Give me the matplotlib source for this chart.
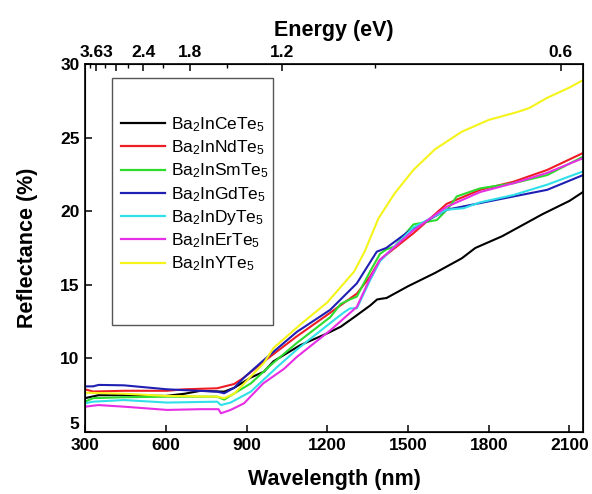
import matplotlib
matplotlib.use("Agg")
import matplotlib.pyplot as plt
from matplotlib.patches import Rectangle

plt.rcParams['font.family'] = ['Liberation Sans', 'DejaVu Sans']
plt.rcParams['mathtext.fontset'] = 'custom'
plt.rcParams['mathtext.rm'] = 'Liberation Sans'
plt.rcParams['mathtext.it'] = 'Liberation Sans:italic'
plt.rcParams['mathtext.bf'] = 'Liberation Sans:bold'

# ---------------- data ----------------
ce_x = [300, 350, 450, 600, 670, 730, 817, 854, 916, 965, 1000, 1100, 1200, 1250, 1300, 1360, 1385, 1400, 1420, 1500, 1600, 1700, 1750, 1850, 2000, 2100, 2150]
ce_y = [7.3, 7.5, 7.5, 7.45, 7.6, 7.8, 7.74, 8.0, 8.7, 9.1, 9.8, 10.9, 11.7, 12.15, 12.8, 13.6, 14.0, 14.05, 14.1, 14.9, 15.8, 16.8, 17.5, 18.3, 19.8, 20.7, 21.3]

nd_x = [300, 330, 445, 605, 668, 791, 854, 891, 965, 1087, 1211, 1310, 1359, 1396, 1520, 1644, 1768, 1892, 2017, 2150]
nd_y = [7.9, 7.75, 7.8, 7.8, 7.9, 7.97, 8.26, 8.7, 9.8, 11.5, 13.1, 14.4, 15.55, 16.7, 18.5, 20.5, 21.45, 22.0, 22.8, 23.95]

sm_x = [300, 330, 445, 605, 791, 817, 865, 916, 990, 1087, 1211, 1250, 1284, 1310, 1359, 1396, 1419, 1450, 1520, 1607, 1650, 1681, 1768, 1892, 2017, 2150]
sm_y = [7.06, 7.3, 7.36, 7.4, 7.4, 7.2, 7.74, 8.3, 9.55, 11.05, 12.8, 13.7, 14.0, 14.2, 15.9, 17.1, 17.4, 17.6, 19.1, 19.4, 20.2, 21.0, 21.55, 21.9, 22.45, 23.7]

gd_x = [300, 330, 351, 445, 605, 791, 817, 854, 891, 965, 1087, 1211, 1310, 1384, 1419, 1508, 1644, 1768, 1892, 2017, 2150]
gd_y = [8.1, 8.1, 8.2, 8.17, 7.9, 7.74, 7.63, 8.0, 8.7, 9.9, 11.8, 13.3, 15.1, 17.25, 17.5, 18.7, 20.1, 20.55, 21.0, 21.45, 22.45]

dy_x = [300, 330, 445, 605, 791, 805, 841, 916, 1013, 1087, 1211, 1260, 1285, 1310, 1359, 1396, 1520, 1644, 1706, 1768, 1892, 2017, 2150]
dy_y = [6.95, 7.06, 7.17, 7.0, 7.06, 6.83, 7.0, 7.74, 9.4, 10.6, 12.4, 13.1, 13.4, 13.4, 15.3, 16.6, 18.9, 20.1, 20.2, 20.6, 21.1, 21.8, 22.7]

er_x = [300, 350, 445, 605, 730, 796, 805, 841, 891, 962, 1040, 1087, 1211, 1310, 1359, 1396, 1520, 1644, 1768, 1892, 2017, 2150]
er_y = [6.72, 6.83, 6.72, 6.5, 6.55, 6.55, 6.27, 6.5, 6.95, 8.3, 9.3, 10.1, 11.9, 13.5, 15.45, 16.7, 18.7, 20.3, 21.3, 21.9, 22.6, 23.6]

y_x = [300, 445, 605, 791, 817, 854, 902, 965, 1000, 1100, 1200, 1300, 1340, 1390, 1450, 1520, 1600, 1700, 1800, 1900, 1950, 2017, 2100, 2150]
y_y = [7.67, 7.6, 7.45, 7.4, 7.3, 7.6, 8.5, 9.7, 10.7, 12.3, 13.8, 15.9, 17.3, 19.5, 21.2, 22.8, 24.2, 25.4, 26.2, 26.7, 27.0, 27.7, 28.4, 28.9]

labels = ['Ba$_2$InCeTe$_5$', 'Ba$_2$InNdTe$_5$', 'Ba$_2$InSmTe$_5$', 'Ba$_2$InGdTe$_5$',
          'Ba$_2$InDyTe$_5$', 'Ba$_2$InErTe$_5$', 'Ba$_2$InYTe$_5$']
colors = ['#000000', '#ee1c24', '#2ddb2d', '#1f1fb4', '#30e0e8', '#e62ee6', '#f4f41a']
series = [(ce_x, ce_y), (nd_x, nd_y), (sm_x, sm_y), (gd_x, gd_y), (dy_x, dy_y), (er_x, er_y), (y_x, y_y)]

bottom_ticks = [300, 600, 900, 1200, 1500, 1800, 2100]
left_ticks = [5, 10, 15, 20, 25, 30]
energy_major = [3.63, 3.0, 2.4, 1.8, 1.2, 0.6]
energy_major_labels = ['3.63', '', '2.4', '1.8', '1.2', '0.6']
energy_minor = [3.9, 3.3, 2.7, 2.1, 1.5, 0.9]

# ---------------- figure ----------------
fig = plt.figure(figsize=(5.92, 4.94), dpi=100)
ax = fig.add_axes([0.1436, 0.1255, 0.8420, 0.7450])

for (xs, ys), c, lab in zip(series, colors, labels):
    ax.plot(xs, ys, color=c, lw=1.5, label=lab)

ax.set_xlim(300, 2152)
ax.set_ylim(5, 30)
ax.set_xticks(bottom_ticks)
ax.set_yticks(left_ticks)
ax.tick_params(axis='both', direction='in', length=5, width=1.1, labelsize=12.5, pad=4)
ax.tick_params(axis='y', right=False)
for lab in ax.get_xticklabels() + ax.get_yticklabels():
    lab.set_fontweight('bold')
# lift the lowest y label so it does not collide with "300"
ax.yaxis.get_major_ticks()[0].label1.set_verticalalignment('bottom')
for s in ax.spines.values():
    s.set_linewidth(1.2)

ax.set_xlabel('Wavelength (nm)', fontsize=15.5, fontweight='bold', labelpad=12)
ax.set_ylabel('Reflectance (%)', fontsize=15.5, fontweight='bold', labelpad=16)

# top energy axis
ax2 = ax.twiny()
ax2.set_xlim(ax.get_xlim())
ax2.set_xticks([1240.0 / e for e in energy_major])
ax2.set_xticklabels(energy_major_labels)
ax2.set_xticks([1240.0 / e for e in energy_minor], minor=True)
ax2.tick_params(axis='x', which='major', direction='in', length=5, width=1.1, labelsize=12.5, pad=3)
ax2.tick_params(axis='x', which='minor', direction='in', length=3, width=1.0)
for lab in ax2.get_xticklabels():
    lab.set_fontweight('bold')
ax2.set_xlabel('Energy (eV)', fontsize=15.5, fontweight='bold', labelpad=6)

# legend
ax.add_patch(Rectangle((0.054, 0.291), 0.323, 0.671, transform=ax.transAxes,
                       fill=False, edgecolor='#555555', lw=1.0, zorder=5))
leg = ax.legend(loc='upper left', bbox_to_anchor=(0.062, 0.875), frameon=False,
                fontsize=12.5, handlelength=2.5, handletextpad=0.4, labelspacing=0.26,
                borderaxespad=0, borderpad=0.3)
for line in leg.get_lines():
    line.set_linewidth(1.6)

fig.savefig('out.png', dpi=100)
